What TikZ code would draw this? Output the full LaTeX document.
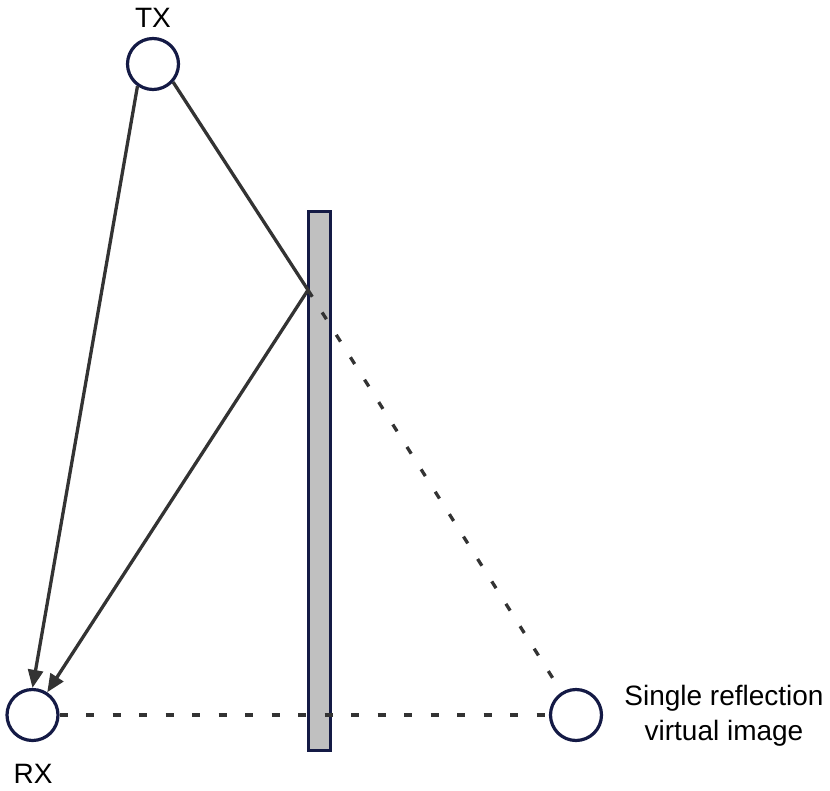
\documentclass[tikz,border=0pt]{standalone}
\usepackage{fontspec}
\setmainfont{Liberation Sans}
\usetikzlibrary{arrows.meta}
\definecolor{navy}{HTML}{141A45}
\definecolor{ray}{HTML}{333333}
\definecolor{wallgray}{HTML}{C0C0C0}
\tikzset{
  antenna/.style={circle, draw=navy, line width=3.2pt, minimum size=51pt, inner sep=0pt, fill=white},
  wallbox/.style={rectangle, draw=navy, line width=3.2pt, fill=wallgray, minimum width=22pt, minimum height=539pt, inner sep=0pt},
  rayline/.style={draw=ray, line width=3.3pt},
  rayarrow/.style={rayline, -{Triangle[length=18pt,width=15pt]}},
  dashline/.style={draw=ray, line width=3.3pt, dash pattern=on 8pt off 18.5pt},
  lbl/.style={font=\fontsize{28}{35}\selectfont, text=black, align=center, inner sep=0pt}
}
\begin{document}
\begin{tikzpicture}[x=1pt,y=-1pt]
\useasboundingbox (0,0) rectangle (830,790);
\node[wallbox] (wall) at (319.5,481) {};
\node[antenna] (tx) at (153,64) {};
\node[antenna] (rx) at (32.5,715) {};
\node[antenna] (vi) at (576,715) {};
\coordinate (refl) at (308,290);
\node[lbl] (txl) at (153,18) {TX};
\node[lbl] (rxl) at (33,774) {RX};
\node[lbl] (vil) at (724,716) {Single reflection\\virtual image};
\draw[rayarrow] (tx.235) -- (rx.north);
\draw[rayline] (tx.318) -- (refl);
\draw[rayarrow] (refl) -- (rx);
\draw[dashline] (refl) -- (vi);
\draw[dashline] (rx) -- (vi);
\end{tikzpicture}
\end{document}
